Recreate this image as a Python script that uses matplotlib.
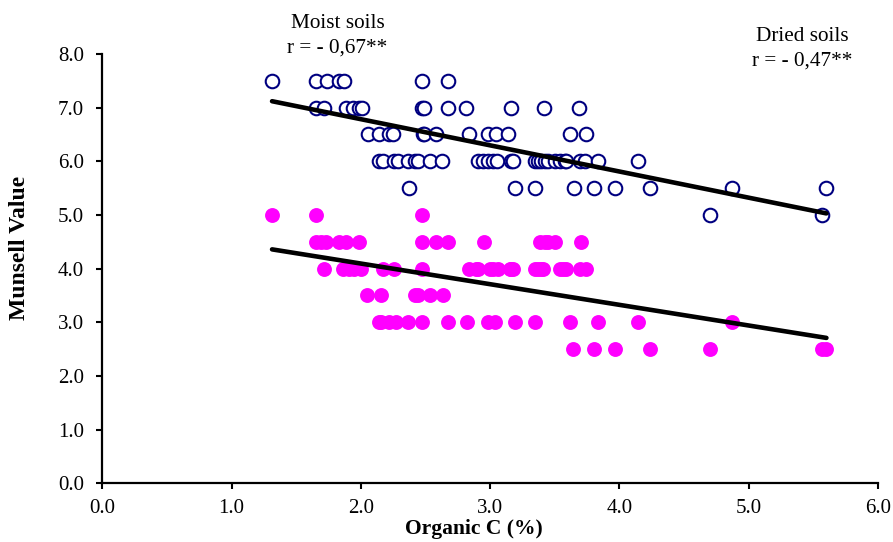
import numpy as np
import matplotlib
matplotlib.use("Agg")
from matplotlib import pyplot as plt

# dried soils (open circles)
dried_c = [1.313, 1.654, 1.739, 1.834, 1.873, 2.470, 2.673,
           1.654, 1.711, 1.886, 1.937, 1.989, 2.010, 2.469, 2.485, 2.673, 2.815, 3.163, 3.416, 3.684,
           2.054, 2.144, 2.221, 2.247, 2.479, 2.492, 2.583, 2.835, 2.982, 3.047, 3.137, 3.614, 3.743,
           2.144, 2.169, 2.260, 2.286, 2.363, 2.415, 2.440, 2.531, 2.629, 2.905, 2.943, 2.982, 3.021,
           3.050, 3.163, 3.176, 3.344, 3.369, 3.395, 3.421, 3.447, 3.498, 3.537, 3.576, 3.589, 3.692,
           3.731, 3.834, 4.143,
           2.369, 3.189, 3.344, 3.645, 3.803, 3.963, 4.234, 4.871, 5.601,
           4.703, 5.563]
dried_v = [7.5] * 7 + [7.0] * 13 + [6.5] * 13 + [6.0] * 29 + [5.5] * 9 + [5.0] * 2

# moist soils (filled magenta); same samples, a few hidden under neighbours
moist_c = [1.313, 1.654, 2.469,
           1.654, 1.695, 1.731, 1.834, 1.886, 1.989, 2.474, 2.583, 2.673, 2.949, 3.382, 3.421, 3.447,
           3.498, 3.705,
           1.711, 1.860, 1.912, 1.950, 2.002, 2.169, 2.260, 2.469, 2.840, 2.892, 2.905, 2.995, 3.021,
           3.060, 3.150, 3.163, 3.176, 3.344, 3.367, 3.395, 3.408, 3.537, 3.563, 3.589, 3.692, 3.744,
           2.049, 2.157, 2.415, 2.440, 2.531, 2.634,
           2.144, 2.152, 2.221, 2.273, 2.363, 2.474, 2.673, 2.820, 2.982, 3.034, 3.189, 3.344, 3.614,
           3.834, 4.143, 4.871,
           3.640, 3.803, 3.963, 4.234, 4.703, 5.563, 5.601]
moist_v = [5.0] * 3 + [4.5] * 15 + [4.0] * 26 + [3.5] * 6 + [3.0] * 16 + [2.5] * 7

plt.rcParams['font.family'] = ['Liberation Serif', 'DejaVu Serif']

fig = plt.figure(figsize=(8.93, 5.42), dpi=100)
ax = fig.add_axes([102.3 / 893, 1 - 483.3 / 542, (878 - 102.3) / 893, (483.3 - 54) / 542])

ax.scatter(dried_c, dried_v, s=95, facecolors='white', edgecolors='#000080', linewidths=1.5, zorder=2)
ax.scatter(moist_c, moist_v, s=115, color='#FF00FF', linewidths=0, zorder=2)

# linear fits
for xs, ys in [(dried_c, dried_v), (moist_c, moist_v)]:
    k, b = np.polyfit(xs, ys, 1)
    xx = np.array([min(xs), max(xs)])
    ax.plot(xx, k * xx + b, color='black', lw=3.3, solid_capstyle='round', zorder=3)

ax.set_xlim(0, 6)
ax.set_ylim(0, 8)
ax.set_xticks(np.arange(0, 6.1, 1.0))
ax.set_yticks(np.arange(0, 8.1, 1.0))
ax.xaxis.set_major_formatter(matplotlib.ticker.FormatStrFormatter('%.1f'))
ax.yaxis.set_major_formatter(matplotlib.ticker.FormatStrFormatter('%.1f'))
ax.tick_params(direction='out', length=4.3, width=1.5, labelsize=15)
ax.tick_params(axis='x', pad=7)
ax.tick_params(axis='y', pad=9)

for s in ['top', 'right']:
    ax.spines[s].set_visible(False)
for s in ['left', 'bottom']:
    ax.spines[s].set_linewidth(1.6)

for coll in ax.collections:
    coll.set_clip_on(False)

fig.text(338 / 893, 1 - 24 / 542, 'Moist soils', ha='center', va='center', fontsize=15.3)
fig.text(337 / 893, 1 - 48 / 542, 'r = - 0,67**', ha='center', va='center', fontsize=15.3)
fig.text(802.5 / 893, 1 - 36.5 / 542, 'Dried soils', ha='center', va='center', fontsize=15.3)
fig.text(802 / 893, 1 - 61.5 / 542, 'r = - 0,47**', ha='center', va='center', fontsize=15.3)

fig.text(473.5 / 893, 1 - 534 / 542, 'Organic C (%)', ha='center', va='baseline', fontsize=15.5,
         fontweight='bold')
fig.text(19.5 / 893, 1 - 247.5 / 542, 'Munsell Value', ha='center', va='center', rotation=90,
         fontsize=17, fontweight='bold')

plt.savefig('out.png')
plt.close('all')
